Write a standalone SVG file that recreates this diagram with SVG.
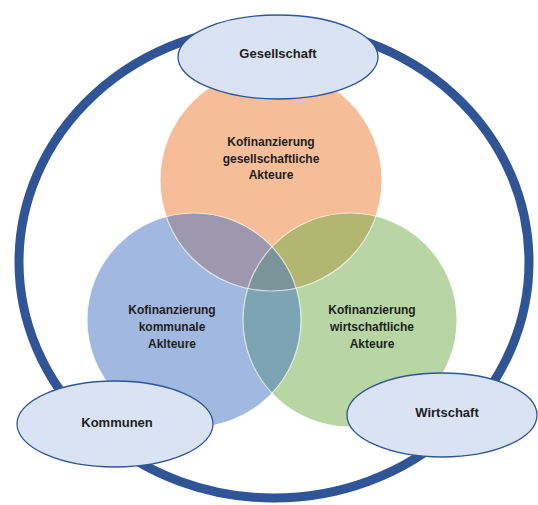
<svg xmlns="http://www.w3.org/2000/svg" width="538" height="505" viewBox="0 0 538 505">
  <style>
    .ring { fill: none; stroke: #2F5597; stroke-width: 9; }
    .venn { opacity: 0.5; stroke: none; }
    .edge { fill: none; stroke: #ffffff; stroke-width: 1.2; stroke-opacity: 0.7; }
    .actor { fill: #DAE3F3; stroke: #2F5597; stroke-width: 1.3; }
    .lbl { font-family: "Liberation Sans", Arial, sans-serif; font-weight: bold; fill: #1e1e1e; text-anchor: middle; }
    .big { font-size: 13px; }
    .small { font-size: 12px; }
  </style>

  <!-- outer ring -->
  <g id="ring">
    <ellipse class="ring" cx="274" cy="262" rx="255" ry="236"/>
  </g>

  <!-- Venn circles: orange, green, blue (50% transparent) -->
  <g id="venn-gesellschaft">
    <circle class="venn" cx="271" cy="180" r="111" fill="#ED7D31"/>
  </g>
  <g id="venn-wirtschaft">
    <circle class="venn" cx="350" cy="320" r="107" fill="#70AD47"/>
  </g>
  <g id="venn-kommunen">
    <circle class="venn" cx="194" cy="320" r="107" fill="#4472C4"/>
  </g>
  <g id="venn-edges">
    <circle class="edge" cx="271" cy="180" r="111"/>
    <circle class="edge" cx="350" cy="320" r="107"/>
    <circle class="edge" cx="194" cy="320" r="107"/>
  </g>

  <g id="venn-labels">
    <text class="lbl small" x="271" y="146">Kofinanzierung</text>
    <text class="lbl small" x="271" y="163">gesellschaftliche</text>
    <text class="lbl small" x="271" y="179">Akteure</text>

    <text class="lbl small" x="172" y="314">Kofinanzierung</text>
    <text class="lbl small" x="172" y="331">kommunale</text>
    <text class="lbl small" x="172" y="348">Aklteure</text>

    <text class="lbl small" x="372" y="314">Kofinanzierung</text>
    <text class="lbl small" x="372" y="331">wirtschaftliche</text>
    <text class="lbl small" x="372" y="348">Akteure</text>
  </g>

  <!-- actor ellipses -->
  <g id="gesellschaft">
    <ellipse class="actor" cx="278" cy="57" rx="100" ry="42"/>
    <text class="lbl big" x="278" y="58">Gesellschaft</text>
  </g>
  <g id="kommunen">
    <ellipse class="actor" cx="115" cy="424" rx="98" ry="43"/>
    <text class="lbl big" x="117" y="427">Kommunen</text>
  </g>
  <g id="wirtschaft">
    <ellipse class="actor" cx="442" cy="415" rx="95" ry="42"/>
    <text class="lbl big" x="447" y="417">Wirtschaft</text>
  </g>
</svg>
